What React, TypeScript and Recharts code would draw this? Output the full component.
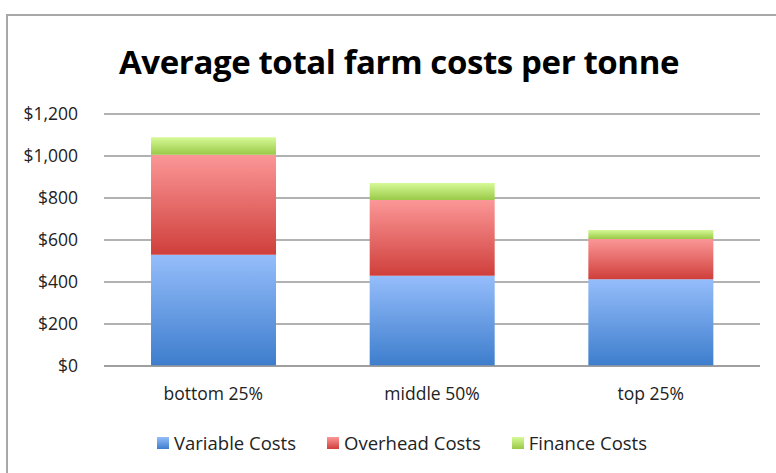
import * as React from 'react';
import { BarChart, Bar, XAxis, YAxis, CartesianGrid } from 'recharts';

const categories = ['bottom 25%', 'middle 50%', 'top 25%'];
const variableCosts = [530, 430, 413];
const overheadCosts = [476, 360, 192];
const financeCosts = [83, 81, 43];
const yTicks = [0, 200, 400, 600, 800, 1000, 1200];

const series = [
  { key: 'variable', name: 'Variable Costs', top: '#95bdfb', bottom: '#3d7dcc', values: variableCosts },
  { key: 'overhead', name: 'Overhead Costs', top: '#fb9797', bottom: '#cf3f3b', values: overheadCosts },
  { key: 'finance', name: 'Finance Costs', top: '#d6fa97', bottom: '#99c947', values: financeCosts },
];

const data = categories.map((name, i) => ({
  name,
  variable: variableCosts[i],
  overhead: overheadCosts[i],
  finance: financeCosts[i],
}));

const font = '"Open Sans", Lato, sans-serif';
const fmt = (v: number) => '$' + v.toLocaleString('en-US');

export default function App() {
  return (
    <div style={{ position: 'absolute', left: 0, top: 0, width: 776, height: 473, overflow: 'hidden', background: '#fff', fontFamily: font }}>
      <div style={{ position: 'absolute', left: 6, top: 14, width: 820, height: 520, border: '2px solid #a8a8a8' }} />
      <div style={{ position: 'absolute', left: 0, top: 39, width: 798, textAlign: 'center', fontSize: 33, fontWeight: 700, color: '#000', lineHeight: '46px', letterSpacing: -0.4 }}>
        Average total farm costs per tonne
      </div>
      <div style={{ position: 'absolute', left: 0, top: 0 }}>
        <BarChart width={776} height={473} data={data} margin={{ top: 114, right: 16, bottom: 77, left: 0 }} barCategoryGap="21.5%">
          <defs>
            {series.map(s => (
              <linearGradient key={s.key} id={'g-' + s.key} x1="0" y1="0" x2="0" y2="1">
                <stop offset="0%" stopColor={s.top} />
                <stop offset="100%" stopColor={s.bottom} />
              </linearGradient>
            ))}
          </defs>
          <CartesianGrid vertical={false} stroke="#999" strokeWidth={1.6} />
          <XAxis dataKey="name" axisLine={{ stroke: '#999', strokeWidth: 1.6 }} tickLine={false} tickMargin={16}
            tick={{ fontSize: 17.5, fill: '#222', fontFamily: font }} height={30} />
          <YAxis domain={[0, 1200]} ticks={yTicks} tickFormatter={fmt} axisLine={false} tickLine={false} width={104} tickMargin={20}
            tick={{ fontSize: 17.5, fill: '#222', fontFamily: font }} />
          {series.map(s => (
            <Bar key={s.key} dataKey={s.key} name={s.name} stackId="a" fill={`url(#g-${s.key})`} isAnimationActive={false} />
          ))}
        </BarChart>
      </div>
      <div style={{ position: 'absolute', left: 157, top: 430, display: 'flex', alignItems: 'center', fontSize: 18.5, color: '#222', lineHeight: '26px' }}>
        {series.map(s => (
          <div key={s.key} style={{ display: 'flex', alignItems: 'center', marginRight: 31 }}>
            <span style={{ display: 'inline-block', width: 12, height: 12, marginRight: 5, background: `linear-gradient(${s.top}, ${s.bottom})` }} />
            <span>{s.name}</span>
          </div>
        ))}
      </div>
    </div>
  );
}
